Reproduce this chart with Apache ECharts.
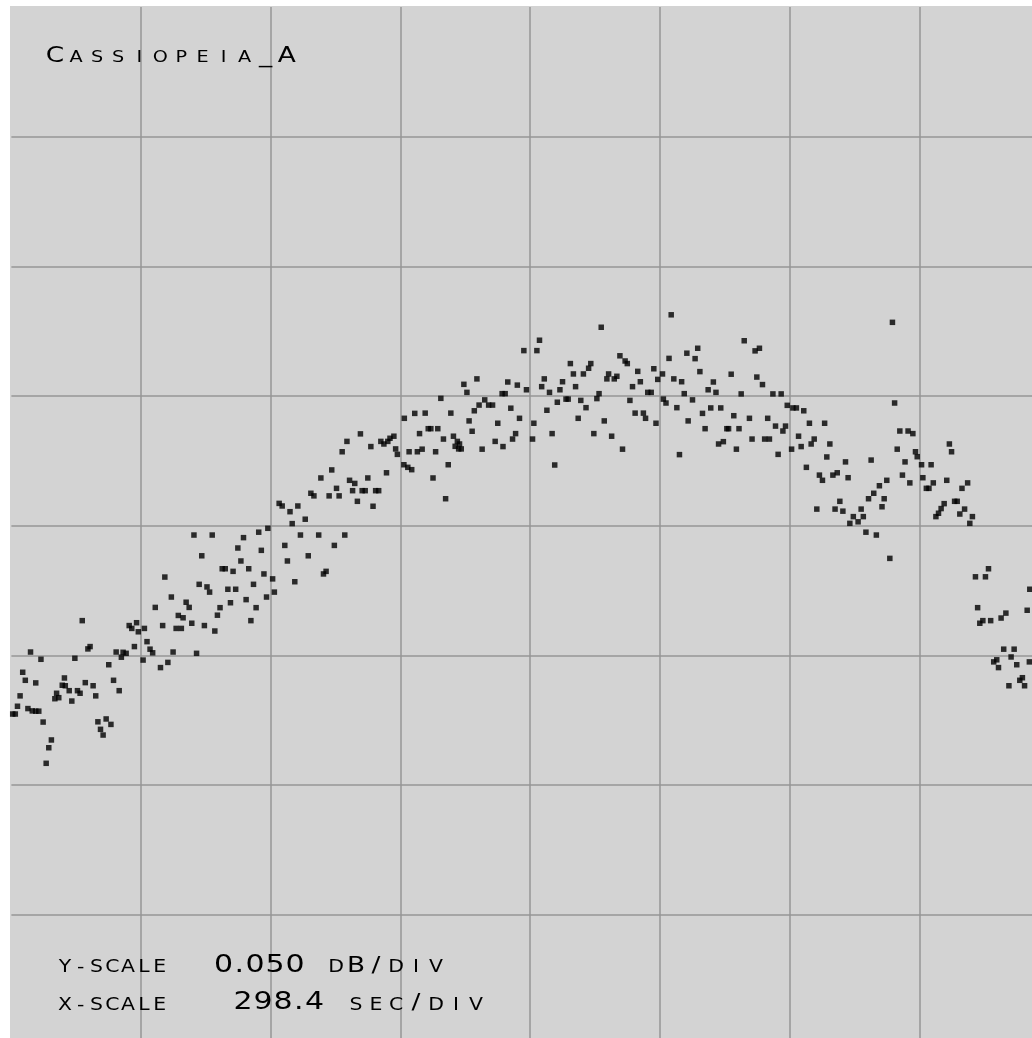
<!DOCTYPE html>
<html>
<head>
<meta charset="utf-8">
<title>Cassiopeia_A drift scan</title>
<script src="https://cdn.jsdelivr.net/npm/echarts@6/dist/echarts.min.js"></script>
<style>
  html, body { margin: 0; padding: 0; background: #fff; }
  #chart { width: 1032px; height: 1038px; }
</style>
</head>
<body>
<div id="chart"></div>
<script>
/** Drift scan samples: time in seconds */
const timeSec = [
  3, 9, 14, 20, 26, 32, 38, 44, 48, 56, 56, 63, 68, 73, 80,
  86, 92, 100, 104, 109, 117, 122, 124, 133, 139, 146, 152, 158, 163, 170,
  176, 181, 188, 194, 199, 205, 211, 218, 224, 229, 235, 241, 248, 253, 257,
  264, 271, 277, 283, 288, 292, 303, 306, 312, 319, 325, 331, 343, 348, 353,
  360,
  368, 372, 379, 384, 391, 395, 402, 409, 415, 420, 426, 432, 438, 444, 450,
  456, 462, 468, 474, 480, 485, 492, 498, 504, 510, 516, 521, 528, 534, 540,
  546, 551, 557, 563, 569, 575, 581, 587, 590, 601, 605, 616, 623, 629, 635,
  641, 646, 652, 659, 665, 676, 683, 689, 696, 707, 712, 718, 724, 731, 737,
  743, 748, 754, 767,
  761, 772, 778, 785, 790, 796, 803, 807, 814, 820, 827, 832, 838, 845, 850,
  857, 863, 866, 871, 880, 884, 888, 903, 904, 912, 915, 921, 928, 934, 939,
  945, 952, 959, 965, 970, 976, 981, 988, 994, 999, 1005, 1011, 1017, 1021, 1026,
  1029, 1031, 1035, 1041, 1048, 1053, 1060, 1065, 1071, 1076, 1083, 1089, 1098, 1107, 1113,
  1119, 1129, 1131, 1136, 1142, 1149, 1153, 1160, 1164, 1169,
  1179, 1185, 1199, 1202, 1209, 1215, 1220, 1226, 1232, 1238, 1244, 1250, 1256, 1262, 1268,
  1276, 1281, 1286, 1293, 1298, 1304, 1310, 1316, 1322, 1328, 1333, 1340, 1347, 1352, 1357,
  1364, 1370, 1374, 1381, 1387, 1393, 1400, 1406, 1412, 1417, 1423, 1429, 1435, 1441, 1447,
  1454, 1459, 1464, 1472, 1478, 1483, 1487, 1498, 1500, 1506, 1513, 1518, 1524, 1531, 1537,
  1542, 1548, 1554, 1557,
  1567, 1573, 1579, 1584, 1590, 1596, 1603, 1609, 1615, 1621, 1627, 1632, 1638, 1646, 1650,
  1656, 1662, 1668, 1674, 1679, 1686, 1698, 1704, 1711, 1715, 1721, 1728, 1733, 1740, 1744,
  1752, 1758, 1764, 1771, 1775, 1781, 1785, 1795, 1798, 1806, 1811, 1817, 1823, 1829, 1836,
  1840, 1847, 1853, 1859, 1866, 1871, 1876, 1883, 1890, 1895, 1900, 1906, 1913, 1919, 1925,
  1929, 1937, 1948, 1955, 1960, 1966, 1972, 1978, 1984, 1990, 1997, 2003, 2008, 2014, 2021,
  2027, 2032, 2038, 2044, 2050, 2056, 2063, 2067, 2074, 2080, 2084, 2094, 2097, 2105, 2111,
  2116, 2121, 2127, 2133, 2139, 2146, 2152, 2158, 2163, 2170, 2176, 2182, 2187, 2193, 2200,
  2205, 2211, 2218, 2223, 2228, 2235, 2241, 2248, 2253, 2260, 2267, 2271, 2277, 2283, 2288,
  2295, 2300, 2307, 2313, 2320, 2326, 2331, 2337, 2342, 2343,
]

/** Received level in dB, same order as timeSec */
const levelDb = [
  0.1274, 0.1274, 0.1304, 0.1344, 0.1435, 0.1404, 0.1295, 0.1513, 0.1286, 0.1285, 0.1394, 0.1285, 0.1485, 0.1243, 0.1084,
  0.1144, 0.1174, 0.1333, 0.1354, 0.1337, 0.1385, 0.1413, 0.1383, 0.1364, 0.1324, 0.1489, 0.1364, 0.1354, 0.1634, 0.1395,
  0.1525, 0.1534, 0.1383, 0.1344, 0.1244, 0.1215, 0.1193, 0.1255, 0.1464, 0.1234, 0.1404, 0.1513, 0.1364, 0.1493, 0.1512,
  0.1508, 0.1615, 0.1604, 0.1534, 0.1626, 0.1591, 0.1482, 0.1604, 0.1553, 0.1524, 0.1510, 0.1685, 0.1453, 0.1615, 0.1802,
  0.1473,
  0.1725, 0.1513, 0.1604, 0.1654, 0.1604, 0.1645, 0.1705, 0.1685, 0.1624, 0.1964, 0.1508, 0.1774, 0.1884, 0.1615, 0.1764,
  0.1744, 0.1964, 0.1594, 0.1655, 0.1684, 0.1834, 0.1834, 0.1755, 0.1703, 0.1824, 0.1755, 0.1914, 0.1864, 0.1954, 0.1715,
  0.1834, 0.1634, 0.1774, 0.1684, 0.1975, 0.1905, 0.1814, 0.1725, 0.1990, 0.1795, 0.1744, 0.2086, 0.2076, 0.1924, 0.1864,
  0.2054, 0.2008, 0.1784, 0.2076, 0.1964, 0.2025, 0.1884, 0.2125, 0.2115, 0.1964, 0.2184, 0.1814, 0.1824, 0.2115, 0.2215,
  0.1924, 0.2144, 0.2115, 0.1964,
  0.2285, 0.2325, 0.2175, 0.2135, 0.2163, 0.2094, 0.2354, 0.2135, 0.2135, 0.2184, 0.2305, 0.2075, 0.2135, 0.2135, 0.2325,
  0.2315, 0.2204, 0.2325, 0.2337, 0.2345, 0.2296, 0.2275, 0.2235, 0.2414, 0.2225, 0.2285, 0.2216, 0.2433, 0.2285, 0.2355,
  0.2295, 0.2434, 0.2374, 0.2374, 0.2184, 0.2285, 0.2374, 0.2491, 0.2334, 0.2104, 0.2235, 0.2434, 0.2345, 0.2306, 0.2325,
  0.2296, 0.2315, 0.2296, 0.2545, 0.2514, 0.2404, 0.2364, 0.2443, 0.2566, 0.2465, 0.2295, 0.2485, 0.2465, 0.2465, 0.2325,
  0.2395, 0.2509, 0.2305, 0.2509, 0.2554, 0.2453, 0.2334, 0.2355, 0.2542, 0.2414,
  0.2675, 0.2524, 0.2334, 0.2395, 0.2675, 0.2715, 0.2536, 0.2566, 0.2445, 0.2514, 0.2355, 0.2234, 0.2476, 0.2524, 0.2555,
  0.2488, 0.2488, 0.2625, 0.2585, 0.2536, 0.2414, 0.2483, 0.2585, 0.2455, 0.2607, 0.2625, 0.2355, 0.2490, 0.2509, 0.2765,
  0.2404, 0.2566, 0.2585, 0.2345, 0.2566, 0.2576, 0.2655, 0.2295, 0.2635, 0.2625, 0.2483, 0.2536, 0.2434, 0.2595, 0.2555,
  0.2434, 0.2414, 0.2514, 0.2514, 0.2605, 0.2395, 0.2564, 0.2585, 0.2488, 0.2473, 0.2645, 0.2813, 0.2566, 0.2455, 0.2274,
  0.2555, 0.2509, 0.2665, 0.2404,
  0.2485, 0.2644, 0.2684, 0.2594, 0.2433, 0.2374, 0.2524, 0.2454, 0.2554, 0.2514, 0.2315, 0.2454, 0.2324, 0.2374, 0.2374,
  0.2584, 0.2424, 0.2295, 0.2374, 0.2508, 0.2713, 0.2414, 0.2334, 0.2674, 0.2573, 0.2684, 0.2544, 0.2334, 0.2414, 0.2334,
  0.2508, 0.2384, 0.2275, 0.2508, 0.2365, 0.2384, 0.2464, 0.2295, 0.2454, 0.2454, 0.2345, 0.2305, 0.2443, 0.2225, 0.2395,
  0.2315, 0.2334, 0.2064, 0.2195, 0.2175, 0.2395, 0.2265, 0.2315, 0.2195, 0.2064, 0.2204, 0.2094, 0.2056, 0.2246, 0.2185,
  0.2009, 0.2035, 0.2015, 0.2064, 0.2035, 0.1975, 0.2104, 0.2253, 0.2125, 0.1964, 0.2154, 0.2073, 0.2104, 0.2175, 0.1874,
  0.2784, 0.2473, 0.2295, 0.2365, 0.2195, 0.2246, 0.2365, 0.2165, 0.2355, 0.2285, 0.2266, 0.2235, 0.2185, 0.2144, 0.2144,
  0.2235, 0.2165, 0.2035, 0.2048, 0.2066, 0.2085, 0.2175, 0.2315, 0.2285, 0.2094, 0.2094, 0.2045, 0.2144, 0.2064, 0.2165,
  0.2009, 0.2035, 0.1803, 0.1684, 0.1624, 0.1634, 0.1803, 0.1834, 0.1634, 0.1475, 0.1483, 0.1453, 0.1644, 0.1524, 0.1663,
  0.1383, 0.1494, 0.1524, 0.1464, 0.1404, 0.1414, 0.1383, 0.1674, 0.1475, 0.1755,
]

/** Graticule: 8 x 8 divisions */
const SEC_PER_DIV = 298.4
const DB_PER_DIV = 0.05
const DIVISIONS = 8
const DIV_PX = 129.7

/** Screen annotations, in the scope's own wording */
const sourceName = 'Cassiopeia_A'
const yScaleText = ['y-scale', '0.050', 'dB/div']
const xScaleText = ['x-scale', '298.4', 'sec/div']

const FONT = 'DejaVu Sans'
const INK = '#1a1a1a'
const SCREEN = '#d3d3d3'
const GRATICULE = '#969696'
const WIDEN = 1.2

/**
 * Small caps text: lower case letters are drawn as smaller capitals,
 * every character sits in a fixed width cell like the scope's vector font.
 */
function capsText(str, left, baseline, opt) {
  const tok = (size, width) => ({
    fontFamily: FONT,
    fontSize: size,
    color: INK,
    width: width / WIDEN,
    height: 0.66 * size + 8,
    lineHeight: 24,
    align: 'center',
    verticalAlign: 'bottom',
  })
  const rich = {
    b: tok(opt.big, opt.cell),
    s: tok(opt.small, opt.cell),
    d: tok(opt.big, opt.dot || opt.cell),
  }
  const text = str.split('').map((ch) => {
    if (ch === '.') return '{d|.}'
    if (ch >= 'a' && ch <= 'z') return `{s|${ch.toUpperCase()}}`
    return `{b|${ch}}`
  }).join('')
  return {
    type: 'text',
    z: 100,
    silent: true,
    x: left,
    y: baseline - 20,
    scaleX: WIDEN,
    style: { x: 0, y: 0, text, rich, align: 'left', verticalAlign: 'top' },
  }
}

const points = timeSec.map((t, i) => [t, levelDb[i]])

const chart = echarts.init(document.getElementById('chart'), undefined, { renderer: 'canvas' })

const hiddenAxis = {
  type: 'value',
  axisLine: { show: false },
  axisTick: { show: false },
  axisLabel: { show: false },
  splitLine: {
    show: true,
    showMinLine: false,
    showMaxLine: false,
    lineStyle: { color: GRATICULE, width: 1.5 },
  },
}

chart.setOption({
  backgroundColor: '#ffffff',
  animation: false,
  grid: {
    left: 11.4,
    top: 6.9,
    width: DIV_PX * DIVISIONS,
    height: DIV_PX * DIVISIONS,
    outerBoundsMode: 'none',
  },
  xAxis: { ...hiddenAxis, min: 0, max: SEC_PER_DIV * DIVISIONS, interval: SEC_PER_DIV },
  yAxis: { ...hiddenAxis, min: 0, max: DB_PER_DIV * DIVISIONS, interval: DB_PER_DIV },
  graphic: [
    // phosphor screen area, white margin at top and left
    { type: 'rect', z: -100, silent: true, shape: { x: 10, y: 6, width: 1100, height: 1100 }, style: { fill: SCREEN } },
    capsText(sourceName, 44.5, 63.3, { big: 22, small: 16, cell: 21.06 }),
    capsText(yScaleText[0], 57, 973.3, { big: 17, small: 17, cell: 15.8 }),
    capsText(yScaleText[1], 213.5, 973.3, { big: 25, small: 17, cell: 20, dot: 11.5 }),
    capsText(yScaleText[2], 326, 973.3, { big: 22, small: 17, cell: 20 }),
    capsText(xScaleText[0], 57, 1010.7, { big: 17, small: 17, cell: 15.8 }),
    capsText(xScaleText[1], 233, 1010.7, { big: 25, small: 17, cell: 20, dot: 11.5 }),
    capsText(xScaleText[2], 346, 1010.7, { big: 22, small: 17, cell: 20 }),
  ],
  series: [
    {
      type: 'scatter',
      data: points,
      symbol: 'rect',
      symbolSize: 5.5,
      itemStyle: { color: '#000000' },
      emphasis: { disabled: true },
      silent: true,
    },
  ],
})
</script>
</body>
</html>
